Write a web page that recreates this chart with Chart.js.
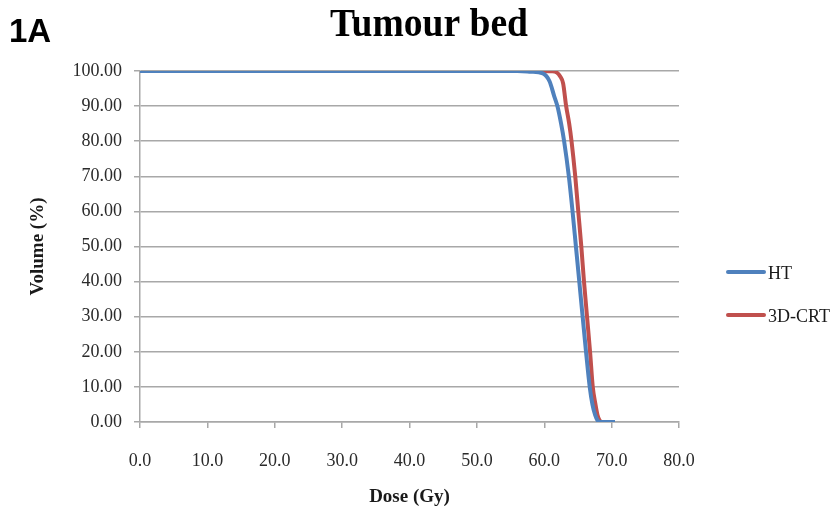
<!DOCTYPE html>
<html>
<head>
<meta charset="utf-8">
<script src="https://cdn.jsdelivr.net/npm/chart.js@4/dist/chart.umd.min.js"></script>
<style>
  html, body { margin: 0; padding: 0; background: #fff; }
  #wrap { width: 836px; height: 517px; position: relative; }
</style>
</head>
<body>
<div id="wrap"><canvas id="c" width="836" height="517"></canvas></div>
<script>
const chartTitle = "Tumour bed";
const panelLabel = "1A";
const xTitle = "Dose (Gy)";
const yTitle = "Volume (%)";
const seriesNames = ["HT", "3D-CRT"];
const seriesColors = ["#4F81BD", "#C0504D"];

const htDose   = [0, 56, 58, 59.8, 60.8, 61.45, 61.95, 62.5, 62.95, 63.65, 64.2, 64.7, 65.2, 65.7, 66.2, 66.75, 67.15, 67.55, 67.9, 68.3, 70.5];
const htVolume = [100, 100, 99.8, 99.3, 97, 93, 90, 85, 80, 70, 60, 50, 40, 30, 20, 10, 5, 2, 0.5, 0, 0];

const crtDose   = [0, 59, 61.2, 61.9, 62.35, 62.8, 63.25, 63.7, 64.05, 64.6, 65.05, 65.5, 65.9, 66.35, 66.8, 67.2, 67.6, 67.9, 68.2, 68.6, 70.0];
const crtVolume = [100, 100, 99.9, 99.5, 98.5, 96.5, 90, 85, 80, 70, 60, 50, 40, 30, 20, 10, 5, 2, 0.5, 0, 0];

const xMin = 0, xMax = 80, xStep = 10;
const yMin = 0, yMax = 100, yStep = 10;

const toPts = (xs, ys) => xs.map((x, i) => ({ x: x, y: ys[i] }));

const gridColor = "#a8a8a8";
const serif = "'Liberation Serif', 'DejaVu Serif', serif";

const textPlugin = {
  id: 'texts',
  afterDraw(chart) {
    const ctx = chart.ctx;
    const ca = chart.chartArea;
    ctx.save();
    ctx.fillStyle = "#000";
    ctx.font = "bold 33px 'Liberation Sans', Arial, sans-serif";
    ctx.textBaseline = "alphabetic";
    ctx.textAlign = "left";
    ctx.fillText(panelLabel, 9, 42);
    ctx.font = "bold 40px " + serif;
    const tw = ctx.measureText(chartTitle).width;
    const target = 198;
    ctx.save();
    ctx.translate(429, 36);
    ctx.scale(target / tw, 1);
    ctx.textAlign = "center";
    ctx.fillText(chartTitle, 0, 0);
    ctx.restore();
    ctx.font = "bold 19px " + serif;
    ctx.textAlign = "center";
    ctx.textBaseline = "middle";
    ctx.fillStyle = "#1a1a1a";
    ctx.fillText(xTitle, (ca.left + ca.right) / 2, 497);
    ctx.save();
    ctx.translate(38, (ca.top + ca.bottom) / 2);
    ctx.rotate(-Math.PI / 2);
    ctx.fillText(yTitle, 0, 0);
    ctx.restore();
    const legY = [272, 315];
    ctx.font = "18px " + serif;
    ctx.textAlign = "left";
    ctx.textBaseline = "middle";
    chart.data.datasets.forEach((ds, i) => {
      ctx.strokeStyle = ds.borderColor;
      ctx.lineWidth = 4;
      ctx.lineCap = "round";
      ctx.beginPath();
      ctx.moveTo(728, legY[i]);
      ctx.lineTo(764, legY[i]);
      ctx.stroke();
      ctx.fillStyle = "#1a1a1a";
      ctx.fillText(ds.label, 768, legY[i] + 2);
    });
    ctx.restore();
  }
};

new Chart(document.getElementById('c'), {
  type: 'line',
  data: {
    datasets: [
      { label: seriesNames[0], data: toPts(htDose, htVolume), borderColor: seriesColors[0], backgroundColor: seriesColors[0], borderWidth: 4, pointRadius: 0, cubicInterpolationMode: 'monotone', fill: false },
      { label: seriesNames[1], data: toPts(crtDose, crtVolume), borderColor: seriesColors[1], backgroundColor: seriesColors[1], borderWidth: 4, pointRadius: 0, cubicInterpolationMode: 'monotone', fill: false }
    ]
  },
  options: {
    responsive: false,
    animation: false,
    devicePixelRatio: 1,
    layout: { padding: { left: 0, top: 71, right: 157, bottom: 0 } },
    plugins: { legend: { display: false }, title: { display: false }, tooltip: { enabled: false } },
    scales: {
      x: {
        type: 'linear', min: xMin, max: xMax,
        ticks: { stepSize: xStep, color: "#2a2a2a", font: { family: serif, size: 18 }, padding: 22, maxRotation: 0,
                 callback: v => Number(v).toFixed(1) },
        grid: { display: true, drawOnChartArea: false, drawTicks: true, tickLength: 6, color: gridColor, lineWidth: 1.5 },
        border: { display: true, color: gridColor, width: 1.5 },
        afterFit: s => { s.height = 517 - 422; }
      },
      y: {
        type: 'linear', min: yMin, max: yMax,
        ticks: { stepSize: yStep, color: "#2a2a2a", font: { family: serif, size: 18 }, padding: 12,
                 callback: v => Number(v).toFixed(2) },
        grid: { display: true, drawTicks: true, tickLength: 6, color: gridColor, lineWidth: 1.5 },
        border: { display: true, color: gridColor, width: 1.5 },
        afterFit: s => { s.width = 140; }
      }
    }
  },
  plugins: [textPlugin]
});
</script>
</body>
</html>
